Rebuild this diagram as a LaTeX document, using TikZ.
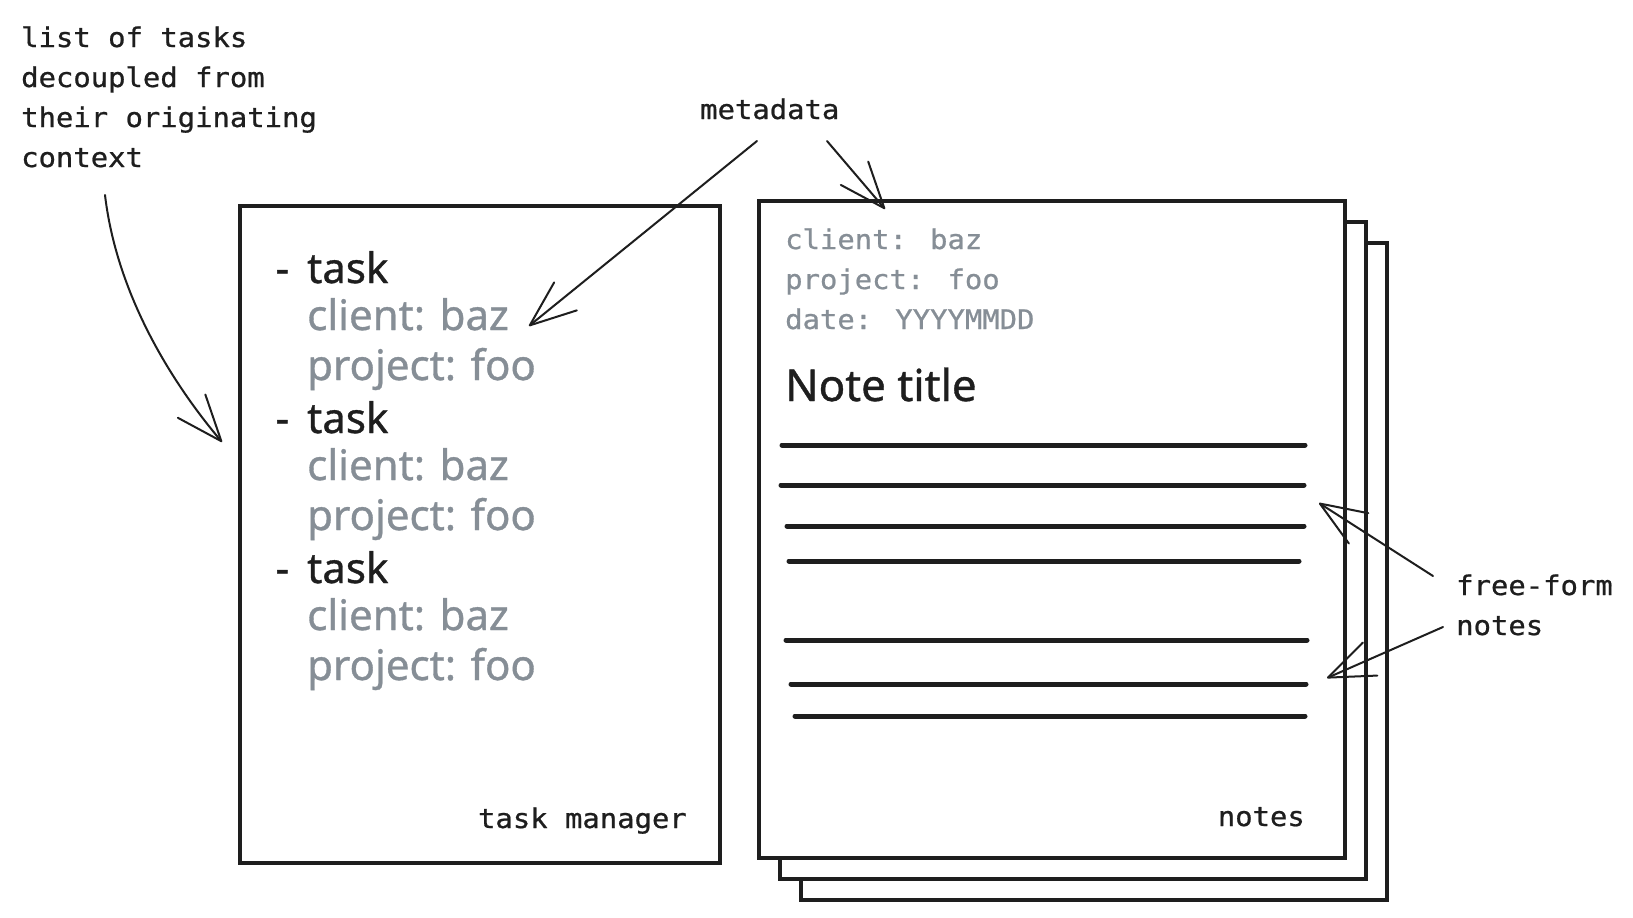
\documentclass[tikz,border=0pt]{standalone}
\usepackage{fontspec}
\usetikzlibrary{arrows.meta}
\newfontfamily\monofont[FakeStretch=1.07,FakeBold=0.8]{DejaVu Sans Mono}
\newfontfamily\handfont[FakeBold=0.8]{Noto Sans}
\definecolor{ink}{HTML}{1E1E1E}
\definecolor{metagray}{HTML}{868E96}
\begin{document}
\begin{tikzpicture}[x=1pt,y=-1pt,
  mono/.style={font=\monofont\fontsize{27}{40}\selectfont, text=ink, inner sep=0pt, align=left, anchor=base west},
  monometa/.style={mono, text=metagray},
  hand/.style={font=\handfont\fontsize{42}{50}\selectfont, text=ink, inner sep=0pt, anchor=base west},
  handmeta/.style={hand, text=metagray},
  page/.style={draw=ink, line width=4pt, fill=white, anchor=north west, minimum width=586pt, minimum height=657pt, inner sep=0pt},
  noteline/.style={draw=ink, line width=5pt, line cap=round},
  pointer/.style={draw=ink, line width=2pt, line cap=round, line join=round,
    -{Straight Barb[length=46pt,width=36pt,round]}}
]
\useasboundingbox (0,0) rectangle (1633,918);

% stack of note pages, back to front
\node[page] (back) at (799,241) {};
\node[page] (middle) at (778,220) {};
\node[page] (front) at (757,199) {};

% task manager page
\node[page, minimum width=480pt] (tm) at (237.5,204) {};

% ruled body lines of the front note
\foreach \ya/\xa/\xb in {445/782/1305, 485/781/1304, 526/787/1304, 561/789/1299,
                         640/786/1307, 684/791/1306, 716/795/1305}
  \draw[noteline] (\xa,\ya) -- (\xb,\ya);

% task list
\foreach \i/\y in {1/283, 2/433, 3/583} {
  \node[hand] (t\i) at (307,\y) {\llap{-\hspace{18pt}}task};
  \node[handmeta] (c\i) at (307,\y+47) {client: baz};
  \node[handmeta] (p\i) at (307,\y+97) {project: foo};
}
\node[mono, anchor=base east] (tmlabel) at (687,828) {task manager};

% note header and title (multi-line nodes sit on their last baseline)
\node[monometa] (nmeta) at (785,329) {client: baz\\project: foo\\date: YYYYMMDD};
\node[hand, font=\handfont\fontsize{44}{50}\selectfont] (ntitle) at (785,401) {Note title};
\node[mono, anchor=base east] (nlabel) at (1305,826) {notes};

% annotations
\node[mono] (listlabel) at (21,167) {list of tasks\\decoupled from\\their originating\\context};
\node[mono] (md) at (700,119) {metadata};
\node[mono] (ff) at (1456,635) {free-form\\notes};

% connector ends
\coordinate (a1s) at (105,195);
\coordinate (a1e) at (222,442);
\coordinate (a2s) at (757,141);
\coordinate (a2e) at (529,326);
\coordinate (a3s) at (827,141);
\coordinate (a3e) at (885,209);
\coordinate (a4s) at (1433,576);
\coordinate (a4e) at (1319,503);
\coordinate (a5s) at (1443,627);
\coordinate (a5e) at (1327,678);

\draw[pointer] (a1s) .. controls (118,305) and (183,396) .. (a1e);
\draw[pointer] (a2s) -- (a2e);
\draw[pointer] (a3s) -- (a3e);
\draw[pointer] (a4s) -- (a4e);
\draw[pointer] (a5s) -- (a5e);
\end{tikzpicture}
\end{document}
